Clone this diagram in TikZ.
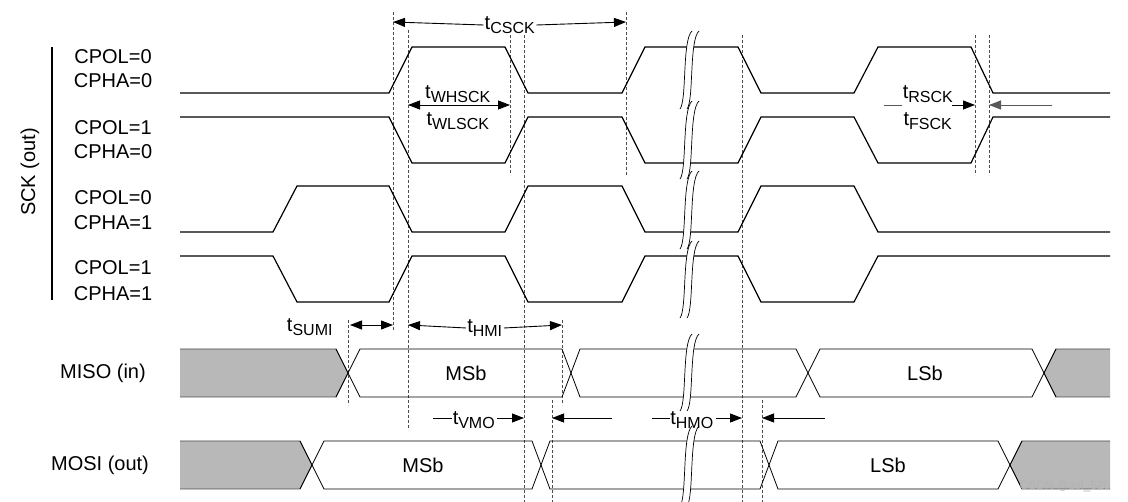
\documentclass[tikz,border=0pt]{standalone}
\usepackage{fontspec}
\setmainfont{Liberation Sans}
\usetikzlibrary{arrows.meta}
\tikzset{
 sig/.style={line width=1.2pt,line join=miter},
 dsh/.style={densely dashed,line width=0.7pt,gray!60!black},
 meas/.style={line width=0.9pt,-{Triangle[length=12pt,width=9pt]}},
 lbl/.style={font=\fontsize{20}{22}\selectfont,inner sep=0pt},
 bus/.style={line width=0.8pt},
 gr/.style={fill=black!28,draw=black!70,line width=0.8pt}
}
\newcommand\tsub[2]{t\textsubscript{\fontsize{16}{16}\selectfont #2}}
\newcommand\brk[3]{%
 \fill[white] (#1-6,#3+6) .. controls (#1+1,#3-3) and (#1-4,#2+3) .. (#1+6,#2-6) -- (#1+13,#2-6) .. controls (#1+3,#2+3) and (#1+8,#3-3) .. (#1+1,#3+6) -- cycle;
 \draw[line width=0.7pt] (#1-6,#3+6) .. controls (#1+1,#3-3) and (#1-4,#2+3) .. (#1+6,#2-6);
 \draw[line width=0.7pt] (#1+1,#3+6) .. controls (#1+8,#3-3) and (#1+3,#2+3) .. (#1+13,#2-6);}
\begin{document}
\begin{tikzpicture}[x=1pt,y=-1pt]
\useasboundingbox (0,0) rectangle (1128,502);
% dashed guides
\draw[dsh] (393,12) -- (393,330);
\draw[dsh] (408,30) -- (408,430);
\draw[dsh] (510,30) -- (510,175);
\draw[dsh] (524,30) -- (524,502);
\draw[dsh] (626,12) -- (626,175);
\draw[dsh] (742,35) -- (742,502);
\draw[dsh] (975,35) -- (975,175);
\draw[dsh] (989,35) -- (989,175);
\draw[dsh] (348,320) -- (348,405);
\draw[dsh] (562,320) -- (562,405);
\draw[dsh] (552,400) -- (552,502);
\draw[dsh] (762,400) -- (762,502);
% clocks
\draw[sig] (180,93)--(389,93)--(412,47)--(505,47)--(528,93)--(622,93)--(645,47)--(738,47)--(761,93)--(854,93)--(878,47)--(971,47)--(993,93)--(1110,93);
\draw[sig] (180,117)--(389,117)--(412,163)--(505,163)--(528,117)--(622,117)--(645,163)--(738,163)--(761,117)--(854,117)--(878,163)--(971,163)--(993,117)--(1110,117);
\draw[sig] (180,232)--(273,232)--(297,186)--(389,186)--(412,232)--(505,232)--(528,186)--(622,186)--(645,232)--(738,232)--(761,186)--(854,186)--(878,232)--(1110,232);
\draw[sig] (180,256)--(273,256)--(297,302)--(389,302)--(412,256)--(505,256)--(528,302)--(622,302)--(645,256)--(738,256)--(761,302)--(854,302)--(878,256)--(1110,256);
% MISO
\draw[gr] (180,349)--(336,349)--(348,373)--(336,397)--(180,397);
\draw[gr] (1110,349)--(1056,349)--(1044,373)--(1056,397)--(1110,397);
\draw[bus] (336,397)--(360,349)--(562,349)--(580,397)--(796,397)--(820,349)--(1032,349)--(1056,397);
\draw[bus] (336,349)--(360,397)--(562,397)--(580,349)--(796,349)--(820,397)--(1032,397)--(1056,349);
% MOSI
\draw[gr] (180,441)--(300,441)--(312,465)--(300,489)--(180,489);
\draw[gr] (1110,441)--(1022,441)--(1010,465)--(1022,489)--(1110,489);
\draw[bus] (300,489)--(324,441)--(532,441)--(550,489)--(760,489)--(778,441)--(998,441)--(1022,489);
\draw[bus] (300,441)--(324,489)--(532,489)--(550,441)--(760,441)--(778,489)--(998,489)--(1022,441);
% breaks
\brk{686}{37}{103}
\brk{686}{107}{173}
\brk{686}{177}{243}
\brk{686}{247}{312}
\brk{686}{340}{405}
\brk{686}{432}{500}
% labels left
\node[lbl] (c1) at (113,57) {CPOL=0};
\node[lbl] (c2) at (113,81) {CPHA=0};
\node[lbl] (c3) at (113,128) {CPOL=1};
\node[lbl] (c4) at (113,152) {CPHA=0};
\node[lbl] (c5) at (113,198) {CPOL=0};
\node[lbl] (c6) at (113,223) {CPHA=1};
\node[lbl] (c7) at (113,268) {CPOL=1};
\node[lbl] (c8) at (113,294) {CPHA=1};
\node[lbl,rotate=90] (sck) at (30,172) {SCK (out)};
\draw[line width=1.2pt] (52,47) -- (52,300);
\node[lbl] (miso) at (103,373) {MISO (in)};
\node[lbl] (mosi) at (100,465) {MOSI (out)};
\node[lbl] (m1) at (466,373) {MSb};
\node[lbl] (l1) at (925,373) {LSb};
\node[lbl] (m2) at (423,465) {MSb};
\node[lbl] (l2) at (888,465) {LSb};
% timing labels
\node[lbl,fill=white,inner sep=1pt] (tc) at (510,25) {\tsub{t}{CSCK}};
\draw[meas] (tc.west) -- (393,22);
\draw[meas] (tc.east) -- (626,22);
\node[lbl] (tw1) at (458,94) {\tsub{t}{WHSCK}};
\node[lbl] (tw2) at (458,121) {\tsub{t}{WLSCK}};
\draw[meas] (458,105) -- (408,105);
\draw[meas] (458,105) -- (510,105);
\node[lbl] (tr) at (928,94) {\tsub{t}{RSCK}};
\node[lbl] (tf) at (928,121) {\tsub{t}{FSCK}};
\draw[line width=0.9pt,gray!70!black] (884,105) -- (902,105);
\draw[meas] (952,105) -- (975,105);
\draw[meas,gray!70!black] (1052,105) -- (989,105);
\node[lbl] (tsu) at (310,327) {\tsub{t}{SUMI}};
\draw[meas] (371,325) -- (350,325);
\draw[meas] (371,325) -- (393,325);
\node[lbl,fill=white,inner sep=1pt] (th) at (485,328) {\tsub{t}{HMI}};
\draw[meas] (th.west) -- (408,325);
\draw[meas] (th.east) -- (562,325);
\node[lbl] (tv) at (474,420) {\tsub{t}{VMO}};
\draw[line width=0.9pt] (433,418) -- (452,418);
\draw[meas] (497,418) -- (524,418);
\draw[meas] (612,418) -- (552,418);
\node[lbl] (tho) at (692,420) {\tsub{t}{HMO}};
\draw[line width=0.9pt] (652,418) -- (670,418);
\draw[meas] (716,418) -- (742,418);
\draw[meas] (825,418) -- (762,418);
\node[font=\fontsize{12}{12}\selectfont,text=gray!60,anchor=east] (wm) at (1114,486) {CSDN @zsl\_520};
\end{tikzpicture}
\end{document}
